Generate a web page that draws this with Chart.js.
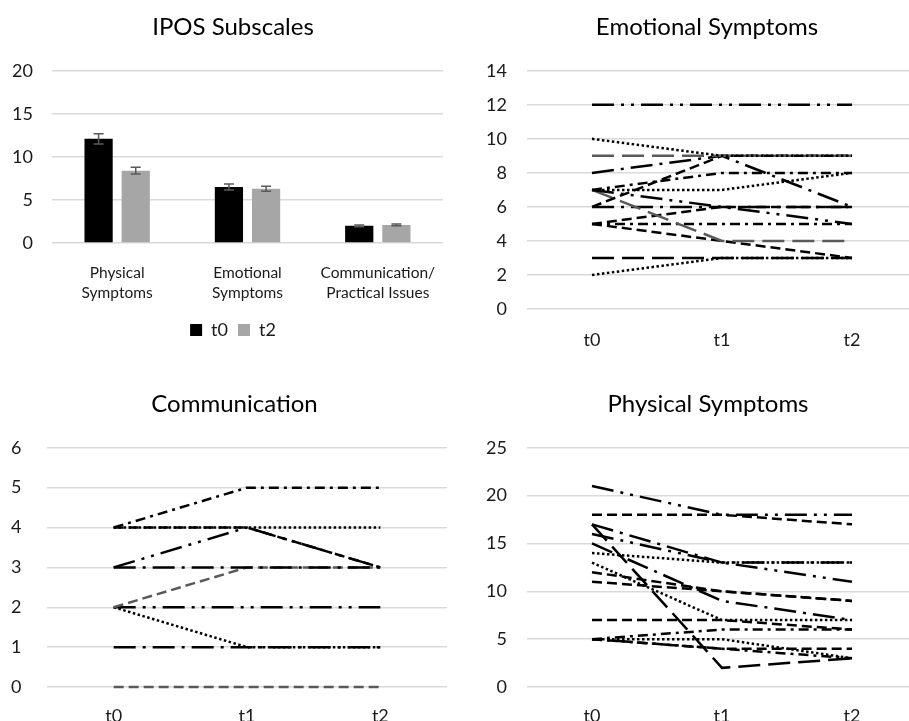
<!DOCTYPE html>
<html>
<head>
<meta charset="utf-8">
<script src="https://cdn.jsdelivr.net/npm/chart.js@4.4.1/dist/chart.umd.min.js"></script>
<style>
html, body { margin: 0; padding: 0; background: #fff; overflow: hidden; }
body { width: 909px; height: 721px; position: relative; }
canvas { position: absolute; }
</style>
</head>
<body>
<canvas id="iposChart" width="455" height="360" style="left:0;top:0"></canvas>
<canvas id="emoChart" width="470" height="360" style="left:455px;top:0"></canvas>
<canvas id="commChart" width="455" height="361" style="left:0;top:360px"></canvas>
<canvas id="physChart" width="470" height="361" style="left:455px;top:360px"></canvas>
<script>
// IPOS subscale means (bars) and error bars
const subscales = [['Physical', 'Symptoms'], ['Emotional', 'Symptoms'], ['Communication/', 'Practical Issues']];
const t0Means = [12.1, 6.5, 2.0];
const t2Means = [8.4, 6.3, 2.1];
const t0Err = [0.6, 0.35, 0.1];
const t2Err = [0.4, 0.3, 0.1];

const timepoints = ['t0', 't1', 't2'];

// individual patient trajectories
const emotional = [
    [12, 12, 12], [10, 9, 9], [9, 9, 9], [8, 9, 6], [6, 9, 9],
    [7, 8, 8], [7, 7, 8], [7, 6, 5], [7, 4, 4], [6, 6, 6],
    [5, 6, 6], [5, 5, 5], [5, 4, 3], [3, 3, 3], [2, 3, 3]
];
const emotionalStyle = [
    'longDashDotDot', 'dot', 'longDashGray', 'longDashDot', 'dash',
    'dashDot', 'dot', 'longDashDotDot', 'longDashGray', 'longDashDot',
    'dash', 'dashDot', 'dash', 'longDash', 'dot'
];

const communication = [
    [4, 5, 5], [4, 4, 4], [4, 4, 3], [3, 4, 3], [3, 3, 3],
    [2, 3, 3], [2, 2, 2], [2, 1, 1], [1, 1, 1], [0, 0, 0]
];
const communicationStyle = [
    'dashDot', 'dot', 'dash', 'longDashDotDot', 'longDashDot',
    'dashGray', 'longDashDotDot', 'dot', 'longDashDot', 'dashGray'
];

const physical = [
    [21, 18, 18], [18, 18, 17], [17, 13, 13], [16, 13, 11], [17, 2, 3],
    [15, 9, 7], [14, 13, 13], [13, 7, 7], [12, 10, 9], [11, 10, 9],
    [7, 7, 6], [5, 6, 6], [5, 5, 3], [5, 4, 4], [5, 4, 3]
];
const physicalStyle = [
    'longDashDotDot', 'dash', 'longDashDot', 'longDashDotDot', 'longDash',
    'longDashDot', 'dot', 'dot', 'dash', 'dash',
    'dash', 'dashDot', 'dot', 'dash', 'dashDot'
];

Chart.defaults.font.family = 'Lato, "Open Sans", sans-serif';
Chart.defaults.color = '#1a1a1a';
Chart.defaults.animation = false;

const GRID = '#d9d9d9';

const lineStyles = {
    dot: { dash: [2.5, 2.5], color: '#000' },
    dash: { dash: [10, 5], color: '#000' },
    dashGray: { dash: [10, 5], color: '#595959' },
    longDash: { dash: [22, 8], color: '#000' },
    longDashGray: { dash: [22, 8], color: '#595959' },
    dashDot: { dash: [10, 5, 3, 5], color: '#000' },
    longDashDot: { dash: [22, 7, 3, 7], color: '#000' },
    longDashDotDot: { dash: [22, 7, 3, 7, 3, 7], color: '#000' }
};

// draws the error bars on top of the bars
const errorBars = {
    id: 'errorBars',
    afterDatasetsDraw(chart) {
        const ctx = chart.ctx;
        const yScale = chart.scales.y;
        chart.data.datasets.forEach((ds, di) => {
            if (!ds.errors) return;
            const meta = chart.getDatasetMeta(di);
            meta.data.forEach((bar, i) => {
                const top = yScale.getPixelForValue(ds.data[i] + ds.errors[i]);
                const bot = yScale.getPixelForValue(ds.data[i] - ds.errors[i]);
                ctx.save();
                ctx.strokeStyle = '#595959';
                ctx.lineWidth = 1.5;
                ctx.beginPath();
                ctx.moveTo(bar.x, top); ctx.lineTo(bar.x, bot);
                ctx.moveTo(bar.x - 5, top); ctx.lineTo(bar.x + 5, top);
                ctx.moveTo(bar.x - 5, bot); ctx.lineTo(bar.x + 5, bot);
                ctx.stroke();
                ctx.restore();
            });
        });
    }
};

function titleOpts(text, top, bottom) {
    return {
        display: true,
        text: text,
        color: '#000',
        font: { size: 24, weight: 'normal' },
        padding: { top: top, bottom: bottom }
    };
}

// mirrored + 'far' so labels stay right aligned but are not clipped to the axis box
function yAxis(max, step, width, pad) {
    return {
        min: 0,
        max: max,
        ticks: { stepSize: step, padding: pad, mirror: true, crossAlign: 'far', font: { size: 18 } },
        grid: { color: GRID, lineWidth: 1.5, drawTicks: false },
        border: { display: false },
        afterFit: (scale) => { scale.width = width; }
    };
}

// IPOS subscales bar chart
new Chart(document.getElementById('iposChart'), {
    type: 'bar',
    data: {
        labels: subscales,
        datasets: [
            { label: 't0', data: t0Means, errors: t0Err, backgroundColor: '#000000' },
            { label: 't2', data: t2Means, errors: t2Err, backgroundColor: '#a6a6a6' }
        ]
    },
    options: {
        responsive: false,
        categoryPercentage: 0.57,
        barPercentage: 0.76,
        layout: { padding: { left: 23, right: 12, bottom: 11, top: 0 } },
        plugins: {
            title: titleOpts('IPOS Subscales', 13, 29),
            legend: {
                position: 'bottom',
                labels: { boxWidth: 12, boxHeight: 12, font: { size: 18 }, padding: 10 }
            },
            tooltip: { enabled: false }
        },
        scales: {
            x: {
                grid: { display: false },
                border: { display: false },
                ticks: { padding: 12, font: { size: 15.5, lineHeight: 1.3 } },
                afterFit: (scale) => { scale.height = 68; }
            },
            y: yAxis(20, 5, 29, -40)
        }
    },
    plugins: [errorBars]
});

function lineChart(id, title, values, styles, max, step, opts) {
    const datasets = values.map((v, i) => {
        const st = lineStyles[styles[i]];
        return {
            label: 'Patient ' + (i + 1),
            data: v,
            borderColor: st.color,
            borderDash: st.dash,
            borderWidth: 2.5,
            pointRadius: 0,
            fill: false,
            tension: 0,
            clip: false
        };
    });
    new Chart(document.getElementById(id), {
        type: 'line',
        data: { labels: timepoints, datasets: datasets },
        options: {
            responsive: false,
            layout: { padding: { left: opts.left, right: 8, top: 0, bottom: 0 } },
            plugins: {
                title: titleOpts(title, opts.titleTop, opts.titleBottom),
                legend: { display: false },
                tooltip: { enabled: false }
            },
            scales: {
                x: {
                    offset: true,
                    grid: { display: false },
                    border: { display: false },
                    ticks: { padding: opts.xPad, font: { size: 18 } },
                    afterFit: (scale) => { scale.height = opts.xHeight; }
                },
                y: yAxis(max, step, opts.yWidth, opts.yPad)
            }
        }
    });
}

lineChart('emoChart', 'Emotional Symptoms', emotional, emotionalStyle, 14, 2,
    { left: 42, yWidth: 30, yPad: -41, titleTop: 13, titleBottom: 29, xPad: 12, xHeight: 51 });
lineChart('commChart', 'Communication', communication, communicationStyle, 6, 1,
    { left: 22, yWidth: 25, yPad: -36, titleTop: 30, titleBottom: 29, xPad: 10, xHeight: 34 });
lineChart('physChart', 'Physical Symptoms', physical, physicalStyle, 25, 5,
    { left: 44, yWidth: 28, yPad: -41, titleTop: 30, titleBottom: 29, xPad: 10, xHeight: 34 });
</script>
</body>
</html>
